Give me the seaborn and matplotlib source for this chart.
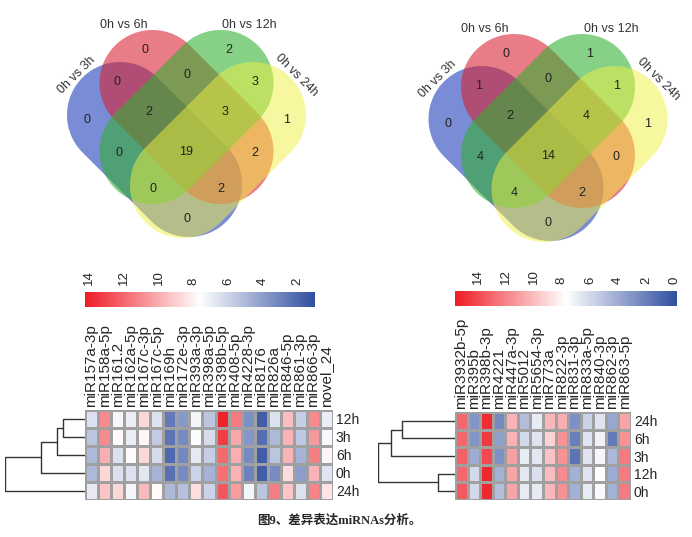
import numpy as np
import pandas as pd
import matplotlib
matplotlib.use("Agg")
import matplotlib.pyplot as plt
from matplotlib.patches import Polygon
from matplotlib.colors import LinearSegmentedColormap
import seaborn as sns

sns.set_style("white")
plt.rcParams['font.family'] = ['Liberation Sans', 'DejaVu Sans']

# ---------------- data ----------------
venn_sets = ["0h vs 3h", "0h vs 6h", "0h vs 12h", "0h vs 24h"]
# region order: 6h, 12h, 3h&6h, 6h&12h, 12h&24h, 3h, 3h&6h&12h, 6h&12h&24h, 24h,
#               3h&12h, all, 6h&24h, 3h&12h&24h, 3h&6h&24h, 3h&24h
venn_left = [0, 2, 0, 0, 3, 0, 2, 3, 1, 0, 19, 2, 0, 2, 0]
venn_right = [0, 1, 1, 0, 1, 0, 2, 4, 1, 4, 14, 0, 4, 2, 0]

left_cols = ["miR157a-3p", "miR158a-5p", "miR161.2", "miR162a-5p", "miR167c-3p",
             "miR167c-5p", "miR169h", "miR172e-3p", "miR393a-3p", "miR398a-5p",
             "miR398b-5p", "miR408-5p", "miR4228-3p", "miR8176", "miR826a",
             "miR846-5p", "miR861-3p", "miR866-3p", "novel_24"]
left_rows = ["12h", "3h", "6h", "0h", "24h"]
left_vals = [
    [6.5, 11.0, 7.3, 7.0, 8.8, 6.5, 2.7, 3.8, 7.3, 5.5, 14.0, 11.5, 3.5, 1.6, 6.5, 9.5, 5.8, 11.0, 7.0],
    [5.5, 11.0, 7.8, 7.0, 7.9, 5.7, 2.5, 3.3, 7.5, 6.3, 13.3, 10.2, 3.7, 2.2, 5.0, 9.8, 5.6, 10.6, 7.4],
    [5.0, 10.0, 6.5, 7.8, 8.8, 6.3, 2.0, 3.2, 6.8, 5.8, 12.0, 10.0, 3.3, 1.6, 5.5, 9.8, 4.8, 11.3, 7.9],
    [5.0, 8.8, 6.5, 6.5, 6.7, 4.8, 2.3, 3.3, 6.0, 4.8, 11.8, 9.8, 3.0, 1.6, 3.3, 8.7, 4.0, 9.8, 6.6],
    [6.8, 9.3, 8.8, 7.3, 9.6, 7.8, 5.0, 5.3, 8.6, 6.0, 12.5, 10.5, 7.3, 5.5, 11.4, 9.3, 6.5, 11.2, 8.4],
]
left_merges = [(0, 1, 21.7), (5, 2, 27.7), (6, 3, 44.3), (7, 4, 80.0)]
left_ticks = [14, 12, 10, 8, 6, 4, 2]

right_cols = ["miR3932b-5p", "miR395b", "miR398b-3p", "miR4221", "miR447a-3p",
              "miR5012", "miR5654-3p", "miR773a", "miR822-3p", "miR831-3p",
              "miR833a-5p", "miR840-3p", "miR862-3p", "miR863-5p"]
right_rows = ["24h", "6h", "3h", "12h", "0h"]
right_vals = [
    [13.0, 3.0, 15.0, 2.5, 10.3, 4.8, 6.8, 10.2, 10.5, 2.8, 5.7, 6.5, 3.8, 10.8],
    [13.0, 3.0, 14.5, 3.5, 10.3, 6.0, 6.5, 9.3, 11.5, 2.0, 6.5, 7.2, 1.8, 11.5],
    [13.2, 4.0, 14.0, 2.8, 11.0, 6.8, 6.6, 9.8, 11.5, 1.5, 6.5, 7.3, 4.5, 12.3],
    [13.0, 6.0, 15.2, 4.2, 10.8, 6.6, 6.3, 10.0, 11.7, 4.2, 6.5, 7.6, 4.0, 12.3],
    [13.5, 6.0, 15.2, 4.8, 10.8, 6.8, 6.8, 10.2, 11.5, 4.2, 6.8, 7.4, 4.2, 12.3],
]
right_merges = [(0, 1, 52.7), (5, 2, 64.3), (3, 4, 16.7), (6, 7, 77.0)]
right_ticks = [14, 12, 10, 8, 6, 4, 2, 0]

caption = "图9、差异表达miRNAs分析。"

# ---------------- figure ----------------
W, H = 692, 537
fig = plt.figure(figsize=(W / 100, H / 100), dpi=100)

# overlay axes in pixel coordinates for the venn diagrams
vax = fig.add_axes([0, 0, 1, 1])
vax.set_xlim(0, W)
vax.set_ylim(H, 0)
vax.axis("off")


def capsule(c1, c2, r, n=60):
    c1, c2 = np.asarray(c1, float), np.asarray(c2, float)
    th = np.arctan2(*(c2 - c1)[::-1])
    a1 = np.linspace(th - np.pi / 2, th + np.pi / 2, n)
    a2 = np.linspace(th + np.pi / 2, th + 3 * np.pi / 2, n)
    p1 = c2 + r * np.column_stack([np.cos(a1), np.sin(a1)])
    p2 = c1 + r * np.column_stack([np.cos(a2), np.sin(a2)])
    return np.vstack([p1, p2])


# shapes: cap centres relative to venn centre, colour, alpha -> blue, red, green, yellow
shapes = [((-66.5, -19), (2.5, 50), "#3550C0", 0.66),
          ((-34, -51), (34, 17), "#D82030", 0.58),
          ((34, -51), (-34, 17), "#30B030", 0.58),
          ((66.5, -19), (-3.5, 51), "#F0F040", 0.5)]
region_pos = [(-42, -84), (42, -84), (-69, -52), (0, -59), (69, -52), (-100, -14),
              (-38, -22), (38, -22), (100, -14), (-68, 19), (0, 18), (68, 19),
              (-34, 55), (34, 55), (0, 85)]
label_pos = [(-110, -59, 45), (-63, -109, 0), (63, -109, 0), (110, -59, -45)]


def draw_venn(cx, cy, counts):
    for c1, c2, col, al in shapes:
        pts = capsule((cx + c1[0], cy + c1[1]), (cx + c2[0], cy + c2[1]), 53)
        vax.add_patch(Polygon(pts, closed=True, facecolor=col, alpha=al, edgecolor="none"))
    for (dx, dy), v in zip(region_pos, counts):
        vax.text(cx + dx, cy + dy, str(v), ha="center", va="center", fontsize=9, color="#222222")
    for (dx, dy, rot), name in zip(label_pos, venn_sets):
        vax.text(cx + dx, cy + dy, name, ha="center", va="center", rotation=rot,
                 fontsize=9, color="#333333")


draw_venn(186.5, 134, venn_left)
draw_venn(548, 138, venn_right)

cmap = LinearSegmentedColormap.from_list("ph", ["#304EA0", "#FFFFFF", "#EE1C24"])


def frac(x0, y0, x1, y1):
    return [x0 / W, 1 - y1 / H, (x1 - x0) / W, (y1 - y0) / H]


def draw_dendro(ax, merges, n):
    pos = {i: i + 0.5 for i in range(n)}
    hgt = {i: 0.0 for i in range(n)}
    k = n
    for a, b, h in merges:
        ax.plot([hgt[a], h, h, hgt[b]], [pos[a], pos[a], pos[b], pos[b]],
                color="#333333", lw=1)
        pos[k] = (pos[a] + pos[b]) / 2
        hgt[k] = h
        k += 1
    ax.set_xlim(max(m[2] for m in merges), 0)
    ax.set_ylim(n, 0)
    ax.axis("off")


def draw_heat(vals, rows, cols, merges, ticks, hm_box, cb_box, dd_box, vmin, vmax):
    df = pd.DataFrame(vals, index=rows, columns=cols)
    ax = fig.add_axes(frac(*hm_box))
    cax = fig.add_axes(frac(*cb_box))
    sns.heatmap(df, ax=ax, cmap=cmap, vmin=vmin, vmax=vmax, linewidths=0.8,
                linecolor="#A0A0A0", cbar_ax=cax,
                cbar_kws={"orientation": "horizontal", "ticks": ticks})
    ax.xaxis.tick_top()
    ax.yaxis.tick_right()
    ax.set_xticks(np.arange(len(cols)) + 0.5)
    ax.set_xticklabels(cols, rotation=90, fontsize=11)
    ax.set_yticks(np.arange(len(rows)) + 0.5)
    ax.set_yticklabels(rows, rotation=0, fontsize=10)
    ax.tick_params(length=0, pad=2)
    ax.set_xlabel("")
    ax.set_ylabel("")
    cb = ax.collections[0].colorbar
    cb.outline.set_visible(False)
    cax.set_xlim(vmax, vmin)
    cax.xaxis.set_ticks_position("top")
    cax.tick_params(length=0, labelsize=9.5, labelrotation=90, pad=5)
    dax = fig.add_axes(frac(*dd_box))
    draw_dendro(dax, merges, len(rows))


draw_heat(left_vals, left_rows, left_cols, left_merges, left_ticks,
          (85, 410, 333, 500), (85, 292, 315, 307), (5, 410, 85, 500), 1.0, 14.25)
draw_heat(right_vals, right_rows, right_cols, right_merges, right_ticks,
          (455, 412, 631, 500), (455, 291, 677, 306), (378, 412, 455, 500), -0.2, 15.6)

fig.text(339 / W, 1 - 521 / H, caption, ha="center", va="center", fontsize=9,
         fontweight="bold", family=["Liberation Serif", "Noto Sans CJK SC"])

fig.savefig("out.png", dpi=100)
